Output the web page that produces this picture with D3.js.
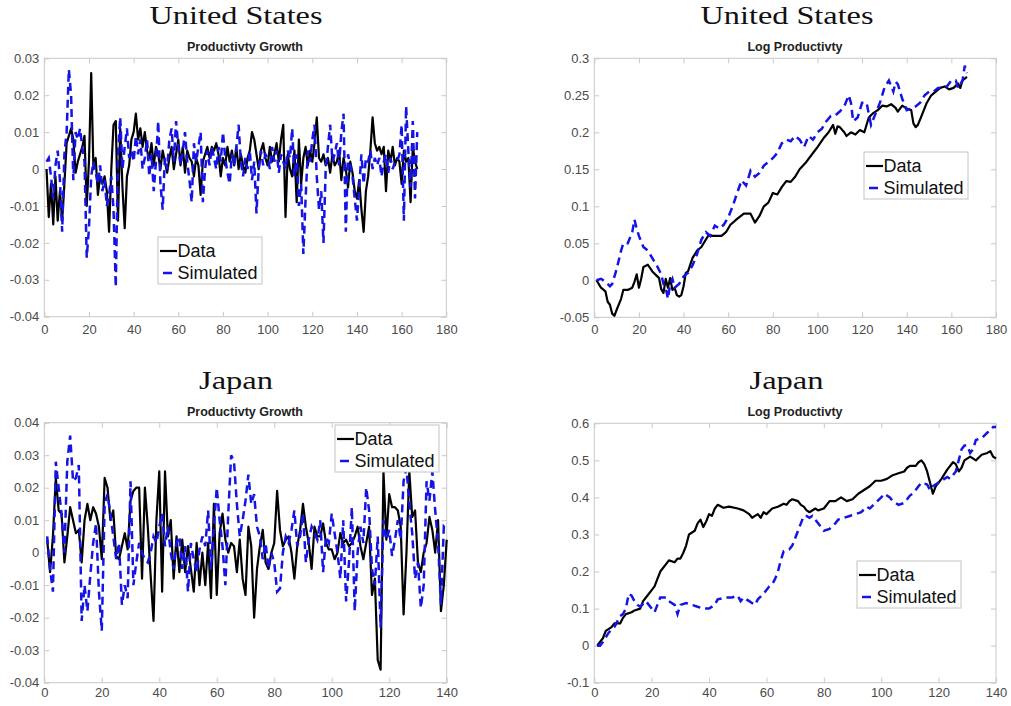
<!DOCTYPE html>
<html><head><meta charset="utf-8">
<script src="https://cdn.jsdelivr.net/npm/d3@7"></script>
<style>html,body{margin:0;padding:0;background:#fff;}svg{display:block;}</style>
</head><body>
<svg id="chart" width="1011" height="706"></svg>
<script>
// ---------- DATA ----------
const seriesNames = ["Data", "Simulated"];
const countryTitles = ["United States", "United States", "Japan", "Japan"];
const panelTitles = ["Productivty Growth", "Log Productivty", "Productivty Growth", "Log Productivty"];

const usXTicks = [0,20,40,60,80,100,120,140,160,180];
const jpXTicks = [0,20,40,60,80,100,120,140];
const usGrowthYTicks = [-0.04,-0.03,-0.02,-0.01,0,0.01,0.02,0.03];
const usLogYTicks = [-0.05,0,0.05,0.1,0.15,0.2,0.25,0.3];
const jpGrowthYTicks = [-0.04,-0.03,-0.02,-0.01,0,0.01,0.02,0.03,0.04];
const jpLogYTicks = [-0.1,0,0.1,0.2,0.3,0.4,0.5,0.6];

// US productivity growth, t = 1..167
const usGrowthData = [0.000,-0.013,-0.004,-0.015,-0.002,-0.014,-0.006,-0.014,-0.004,0.007,
0.009,0.011,0.008,-0.001,0.002,0.004,0.006,0.009,-0.010,0.002,
0.026,0.000,0.003,-0.007,-0.002,-0.004,-0.002,-0.006,-0.017,0.000,
0.012,0.013,-0.014,0.011,-0.005,-0.016,-0.002,0.001,0.008,0.010,
0.015,0.008,0.011,0.006,0.010,0.005,0.003,0.007,0.001,0.006,
0.004,0.000,0.005,0.002,-0.001,0.003,0.006,0.000,0.004,0.008,
0.001,0.006,-0.001,0.005,0.003,0.002,-0.002,0.003,0.001,-0.007,
0.002,0.004,0.006,0.003,0.006,0.005,0.007,0.004,-0.002,0.003,
0.001,0.006,0.002,0.005,0.001,0.006,0.000,0.004,0.001,-0.001,
0.003,0.005,0.010,0.008,0.004,0.000,0.005,0.007,0.003,0.001,
0.006,0.002,0.004,0.007,0.002,0.008,0.012,-0.013,0.004,0.000,
-0.002,0.005,-0.009,0.008,-0.004,0.003,0.006,0.001,0.005,0.002,
0.007,0.014,0.003,0.002,0.004,0.001,0.003,-0.001,0.004,0.001,
0.002,0.005,-0.003,0.003,0.000,-0.005,0.002,-0.001,-0.006,-0.008,
-0.003,-0.011,-0.017,-0.006,-0.002,0.005,0.014,0.007,0.005,0.006,
0.004,0.006,-0.006,0.005,0.002,0.006,0.001,0.003,0.002,-0.004,
0.005,0.002,0.003,-0.009,0.006,0.002,0.000];
const usGrowthSim = [0.002,0.003,-0.002,-0.008,0.001,0.005,-0.003,-0.017,0.004,0.010,
0.027,0.020,-0.003,0.010,0.008,0.011,0.006,0.002,-0.024,-0.016,
-0.002,0.002,-0.001,-0.004,0.001,-0.006,-0.003,-0.010,-0.007,-0.002,
-0.011,-0.032,0.004,0.014,0.000,0.006,0.011,0.003,0.005,0.002,
0.009,0.004,0.008,0.000,0.003,0.008,-0.002,0.004,-0.006,0.002,
0.013,-0.004,-0.011,0.003,0.000,0.008,0.011,0.002,0.013,0.006,
0.001,0.005,0.010,0.002,-0.003,-0.009,0.007,0.002,0.006,0.010,
-0.009,0.000,0.005,0.001,0.006,0.003,0.000,0.006,0.002,0.010,
0.003,-0.001,-0.004,0.004,0.001,0.006,0.012,0.002,-0.002,0.003,
0.000,0.005,-0.003,0.002,-0.012,0.000,0.005,0.001,0.004,0.003,
0.000,0.006,0.002,0.005,-0.001,0.004,0.002,0.000,0.005,0.003,
0.011,-0.002,0.004,-0.010,-0.004,-0.023,-0.008,0.005,0.002,0.008,
0.012,-0.002,-0.011,-0.006,-0.020,0.000,0.006,0.012,0.002,0.004,
0.007,0.001,0.010,0.015,-0.017,0.004,0.001,-0.002,-0.008,-0.014,
-0.005,0.004,-0.004,0.003,0.002,0.005,0.000,0.003,0.001,0.003,
-0.002,0.002,0.004,-0.001,0.003,0.000,0.002,0.002,0.004,0.012,
-0.014,0.017,0.005,-0.005,0.013,-0.008,0.010];

// US log productivity, [t, value]
const usLogData = [[1,0.000],[3,-0.010],[5,-0.015],[6,-0.029],[7,-0.033],[8,-0.045],[9,-0.048],[10,-0.040],[12,-0.025],[13,-0.013],
[15,-0.013],[17,-0.010],[18,-0.002],[19,0.008],[20,-0.010],[21,0.002],[22,0.018],[24,0.021],[26,0.012],[28,0.006],
[29,0.003],[30,-0.012],[31,-0.017],[32,0.002],[33,-0.010],[34,0.003],[35,-0.013],[36,-0.010],[37,-0.020],[38,-0.022],
[39,-0.020],[40,-0.008],[41,0.010],[42,0.012],[44,0.030],[46,0.040],[48,0.045],[49,0.050],[51,0.060],[53,0.060],
[55,0.060],[57,0.060],[59,0.065],[61,0.075],[64,0.083],[67,0.090],[70,0.090],[72,0.078],[74,0.087],[76,0.100],
[78,0.105],[80,0.118],[82,0.116],[84,0.126],[86,0.134],[88,0.133],[90,0.140],[92,0.150],[95,0.160],[98,0.172],
[100,0.180],[103,0.193],[105,0.200],[107,0.210],[108,0.198],[109,0.208],[110,0.207],[112,0.200],[113,0.195],[115,0.200],
[117,0.197],[119,0.203],[121,0.200],[123,0.220],[125,0.226],[127,0.230],[129,0.236],[131,0.235],[133,0.238],[135,0.233],
[136,0.228],[138,0.236],[140,0.232],[142,0.230],[143,0.212],[144,0.207],[145,0.210],[147,0.225],[149,0.240],[151,0.250],
[153,0.255],[155,0.260],[157,0.262],[159,0.258],[161,0.260],[163,0.266],[164,0.260],[165,0.270],[167,0.275]];
const usLogSim = [[1,0.000],[3,0.002],[5,-0.002],[7,-0.008],[8,-0.005],[10,0.015],[12,0.040],[13,0.050],[15,0.050],[17,0.065],
[18,0.082],[19,0.070],[20,0.060],[22,0.045],[24,0.040],[26,0.030],[28,0.020],[30,0.008],[31,-0.005],[32,-0.010],
[33,-0.025],[34,-0.005],[35,0.002],[36,-0.010],[38,-0.005],[40,0.005],[41,0.008],[42,0.010],[44,0.020],[46,0.035],
[48,0.055],[50,0.065],[52,0.060],[54,0.074],[56,0.070],[58,0.075],[60,0.085],[62,0.100],[64,0.118],[66,0.135],
[68,0.128],[70,0.148],[72,0.140],[74,0.145],[76,0.155],[78,0.160],[80,0.165],[82,0.172],[84,0.185],[86,0.190],
[88,0.188],[90,0.195],[92,0.190],[94,0.180],[96,0.195],[98,0.190],[100,0.200],[102,0.205],[104,0.215],[106,0.222],
[108,0.223],[110,0.228],[112,0.235],[114,0.250],[115,0.240],[116,0.215],[118,0.220],[120,0.240],[122,0.240],[124,0.210],
[126,0.225],[128,0.240],[130,0.260],[132,0.270],[134,0.255],[135,0.268],[136,0.265],[138,0.245],[140,0.230],[142,0.232],
[144,0.235],[146,0.240],[148,0.250],[150,0.255],[152,0.255],[154,0.260],[156,0.260],[158,0.262],[160,0.270],[162,0.270],
[163,0.260],[165,0.270],[166,0.290],[167,0.280]];

// Japan productivity growth, t = 1..140
const jpGrowthData = [0.004,-0.006,0.005,0.023,0.013,0.012,-0.003,0.005,0.014,0.010,
0.006,0.007,-0.003,0.010,0.015,0.010,0.014,0.012,0.008,-0.002,
0.023,0.020,0.010,0.013,-0.001,-0.002,0.002,0.006,0.001,0.016,
0.019,0.020,0.020,-0.008,0.020,0.008,-0.007,-0.021,0.010,0.025,
-0.012,0.025,0.005,0.010,-0.008,0.005,-0.006,0.004,-0.006,0.002,
-0.005,-0.012,0.003,-0.010,0.000,-0.010,0.003,-0.014,0.015,-0.013,
0.006,0.012,0.004,0.000,0.003,0.002,-0.006,0.004,-0.008,-0.013,
0.008,0.002,-0.020,-0.005,0.002,0.007,-0.003,-0.005,0.000,0.003,
0.019,0.007,0.002,0.004,0.005,0.000,-0.008,0.002,0.007,0.015,
0.008,0.003,-0.005,0.008,0.005,0.005,0.009,0.003,0.001,0.001,
-0.002,0.000,0.006,0.003,0.004,0.002,0.003,0.005,0.008,0.002,
-0.002,0.003,0.008,-0.013,-0.008,-0.033,-0.036,0.025,0.004,0.018,
0.014,0.014,0.013,0.008,-0.019,0.000,0.025,0.011,0.013,-0.003,
-0.006,0.000,0.003,0.011,0.007,0.000,0.010,-0.018,-0.010,0.004];
const jpGrowthSim = [0.005,-0.005,-0.012,0.028,0.020,0.012,0.000,0.028,0.036,0.022,
0.023,0.027,-0.021,-0.010,-0.018,-0.007,0.003,0.009,-0.012,-0.024,
0.015,0.018,0.012,0.005,-0.002,0.003,-0.016,-0.010,-0.014,0.022,
-0.010,-0.003,0.003,0.000,-0.002,-0.003,0.000,0.005,0.003,0.008,
0.012,0.002,0.008,0.000,-0.005,0.003,0.005,-0.005,0.002,-0.012,
0.003,-0.002,-0.006,0.001,0.005,0.002,0.013,-0.005,0.008,0.020,
0.010,0.002,-0.010,0.012,0.030,0.028,0.015,0.005,0.010,0.016,
0.024,0.015,0.018,0.008,0.005,-0.002,0.003,-0.005,0.000,-0.003,
-0.012,-0.011,0.000,0.005,0.003,0.007,0.013,0.002,0.005,0.012,
-0.003,0.004,0.008,0.006,0.004,0.010,-0.006,0.005,0.003,0.012,
0.006,0.000,-0.008,0.010,-0.015,-0.003,0.014,-0.018,0.000,0.008,
0.003,0.020,0.013,-0.005,-0.010,0.005,-0.023,0.010,0.004,0.007,
-0.001,0.004,0.010,0.004,0.022,0.026,0.015,0.006,-0.008,-0.003,
-0.017,-0.010,0.022,0.016,0.025,0.013,0.003,-0.016,0.008,0.007];

// Japan log productivity, [t, value]
const jpLogData = [[1,0.000],[3,0.020],[4,0.040],[6,0.050],[7,0.060],[9,0.060],[10,0.075],[11,0.085],[13,0.090],[14,0.095],
[16,0.100],[17,0.120],[18,0.130],[20,0.150],[21,0.160],[22,0.180],[23,0.200],[25,0.220],[26,0.230],[28,0.225],
[29,0.235],[30,0.235],[31,0.250],[32,0.270],[33,0.300],[35,0.310],[36,0.330],[37,0.340],[38,0.320],[39,0.335],
[40,0.355],[41,0.350],[42,0.370],[43,0.380],[45,0.372],[47,0.375],[50,0.370],[52,0.365],[54,0.355],[55,0.345],
[56,0.350],[57,0.355],[58,0.345],[59,0.360],[60,0.355],[62,0.370],[64,0.375],[66,0.383],[67,0.380],[68,0.390],
[69,0.395],[71,0.390],[72,0.380],[73,0.375],[74,0.365],[75,0.360],[77,0.370],[78,0.365],[80,0.370],[82,0.390],
[84,0.390],[86,0.400],[88,0.390],[90,0.395],[92,0.410],[94,0.420],[96,0.430],[98,0.445],[100,0.445],[102,0.450],
[104,0.460],[106,0.465],[108,0.470],[109,0.480],[110,0.485],[112,0.485],[113,0.495],[114,0.500],[115,0.490],[116,0.470],
[117,0.440],[118,0.410],[119,0.430],[121,0.450],[123,0.475],[125,0.495],[126,0.490],[127,0.470],[128,0.480],[129,0.500],
[131,0.510],[133,0.500],[135,0.515],[137,0.520],[138,0.525],[139,0.510],[140,0.505]];
const jpLogSim = [[1,0.000],[2,0.000],[3,0.010],[5,0.035],[7,0.050],[9,0.080],[10,0.085],[11,0.100],[12,0.140],[13,0.135],
[14,0.120],[15,0.110],[16,0.105],[18,0.120],[19,0.110],[20,0.100],[21,0.090],[23,0.130],[25,0.130],[26,0.120],
[28,0.110],[29,0.085],[30,0.110],[32,0.115],[34,0.110],[36,0.105],[38,0.100],[40,0.100],[42,0.110],[43,0.125],
[46,0.130],[48,0.130],[50,0.135],[51,0.120],[52,0.130],[54,0.120],[56,0.110],[57,0.125],[59,0.140],[61,0.160],
[62,0.165],[63,0.180],[64,0.200],[65,0.230],[66,0.255],[68,0.260],[69,0.270],[70,0.290],[71,0.310],[72,0.330],
[73,0.350],[74,0.350],[75,0.345],[76,0.350],[77,0.340],[78,0.330],[79,0.320],[80,0.310],[82,0.315],[84,0.330],
[85,0.340],[87,0.345],[89,0.350],[91,0.355],[93,0.360],[95,0.375],[96,0.370],[98,0.385],[100,0.400],[101,0.410],
[103,0.400],[104,0.390],[105,0.385],[106,0.380],[108,0.385],[110,0.405],[111,0.410],[113,0.430],[114,0.440],[116,0.435],
[117,0.420],[118,0.430],[120,0.440],[122,0.450],[123,0.455],[124,0.450],[125,0.460],[126,0.470],[127,0.500],[128,0.530],
[129,0.540],[130,0.540],[131,0.520],[132,0.530],[133,0.555],[135,0.560],[137,0.575],[138,0.580],[139,0.590],[140,0.590]];

// ---------- LAYOUT ----------
const toPairs = arr => arr.map((v,i) => [i+1, v]);
const panels = [
  {x0:44.3, x1:446.3, y0:58.3, y1:316.7, xd:[0,180], yd:[-0.04,0.03], xt:usXTicks, yt:usGrowthYTicks,
   data:toPairs(usGrowthData), sim:toPairs(usGrowthSim), titleX:236, titleY:24, subX:245, subY:50.5, xlabY:334.5,
   leg:{x:158, y:237}},
  {x0:594.3, x1:996, y0:58.3, y1:317.3, xd:[0,180], yd:[-0.05,0.3], xt:usXTicks, yt:usLogYTicks,
   data:usLogData, sim:usLogSim, titleX:787, titleY:24, subX:795, subY:50.5, xlabY:334.5,
   leg:{x:864, y:152}},
  {x0:44.3, x1:446.7, y0:422.7, y1:682.7, xd:[0,140], yd:[-0.04,0.04], xt:jpXTicks, yt:jpGrowthYTicks,
   data:toPairs(jpGrowthData), sim:toPairs(jpGrowthSim), titleX:236, titleY:388.5, subX:245, subY:415.5, xlabY:697.5,
   leg:{x:335, y:425}},
  {x0:594.3, x1:996, y0:423.3, y1:682.7, xd:[0,140], yd:[-0.1,0.6], xt:jpXTicks, yt:jpLogYTicks,
   data:jpLogData, sim:jpLogSim, titleX:786.5, titleY:388.5, subX:795, subY:415.5, xlabY:697.5,
   leg:{x:857, y:561}}
];
const titleWidths = [173, 173, 74, 74];

const svg = d3.select("#chart");
svg.append("rect").attr("width",1011).attr("height",706).attr("fill","#fff");

const boxColor = "#c9c9c9", labColor = "#4a4a4a";
const blue = "#1414e6";
const fmt = v => String(+v.toFixed(3));

panels.forEach((p, k) => {
  const x = d3.scaleLinear().domain(p.xd).range([p.x0, p.x1]);
  const y = d3.scaleLinear().domain(p.yd).range([p.y1, p.y0]);
  const g = svg.append("g");

  // country title
  g.append("text").attr("x", p.titleX).attr("y", p.titleY)
    .attr("text-anchor","middle").attr("font-family","'Liberation Serif','DejaVu Serif',serif")
    .attr("font-size", 26).attr("fill","#111")
    .attr("textLength", titleWidths[k]).attr("lengthAdjust","spacingAndGlyphs")
    .text(countryTitles[k]);
  // subtitle
  g.append("text").attr("x", p.subX).attr("y", p.subY)
    .attr("text-anchor","middle").attr("font-family","'Liberation Sans',Arial,sans-serif")
    .attr("font-weight","bold").attr("font-size", 12.5).attr("fill","#222")
    .text(panelTitles[k]);

  // axes via d3 axes (inward ticks on all sides)
  const tickLen = 5;
  const axB = d3.axisBottom(x).tickValues(p.xt).tickSize(-tickLen).tickFormat(d => d);
  const axT = d3.axisTop(x).tickValues(p.xt).tickSize(-tickLen).tickFormat("");
  const axL = d3.axisLeft(y).tickValues(p.yt).tickSize(-tickLen).tickFormat(fmt);
  const axR = d3.axisRight(y).tickValues(p.yt).tickSize(-tickLen).tickFormat("");

  const styleAxis = (sel) => {
    sel.select(".domain").remove();
    sel.selectAll(".tick line").attr("stroke", boxColor).attr("stroke-width", 1);
    sel.selectAll(".tick text").attr("fill", labColor)
      .attr("font-family","'Liberation Sans',Arial,sans-serif").attr("font-size", 13);
  };
  const gb = g.append("g").attr("transform",`translate(0,${p.y1})`).call(axB).call(styleAxis);
  gb.selectAll(".tick text").attr("dy", null).attr("y", p.xlabY - p.y1);
  g.append("g").attr("transform",`translate(0,${p.y0})`).call(axT).call(styleAxis);
  const gl = g.append("g").attr("transform",`translate(${p.x0},0)`).call(axL).call(styleAxis);
  gl.selectAll(".tick text").attr("x", -5);
  g.append("g").attr("transform",`translate(${p.x1},0)`).call(axR).call(styleAxis);

  // box
  g.append("rect").attr("x", p.x0).attr("y", p.y0).attr("width", p.x1-p.x0).attr("height", p.y1-p.y0)
    .attr("fill","none").attr("stroke", boxColor).attr("stroke-width", 1);

  const line = d3.line().x(d => x(d[0])).y(d => y(d[1]));
  g.append("path").datum(p.data).attr("d", line).attr("fill","none")
    .attr("stroke","#000").attr("stroke-width", 2.2).attr("stroke-linejoin","round");
  g.append("path").datum(p.sim).attr("d", line).attr("fill","none")
    .attr("stroke", blue).attr("stroke-width", 2.5).attr("stroke-dasharray","8,5");

  // legend
  const L = p.leg, lw = 104, lh = 47;
  const lg = g.append("g").attr("transform",`translate(${L.x},${L.y})`);
  lg.append("rect").attr("width", lw).attr("height", lh).attr("fill","#fff")
    .attr("stroke", "#c4c4c4").attr("stroke-width", 1);
  lg.append("line").attr("x1", 2).attr("x2", 19).attr("y1", 14).attr("y2", 14)
    .attr("stroke","#000").attr("stroke-width", 2.2);
  lg.append("line").attr("x1", 5).attr("x2", 14).attr("y1", 36).attr("y2", 36)
    .attr("stroke", blue).attr("stroke-width", 2.5);
  lg.selectAll("text.leg").data(seriesNames).join("text").attr("class","leg")
    .attr("x", 19.5).attr("y", (d,i) => 20 + i*21.5)
    .attr("font-family","'Liberation Sans',Arial,sans-serif").attr("font-size", 18)
    .attr("fill","#111").text(d => d);
});
</script>
</body></html>
